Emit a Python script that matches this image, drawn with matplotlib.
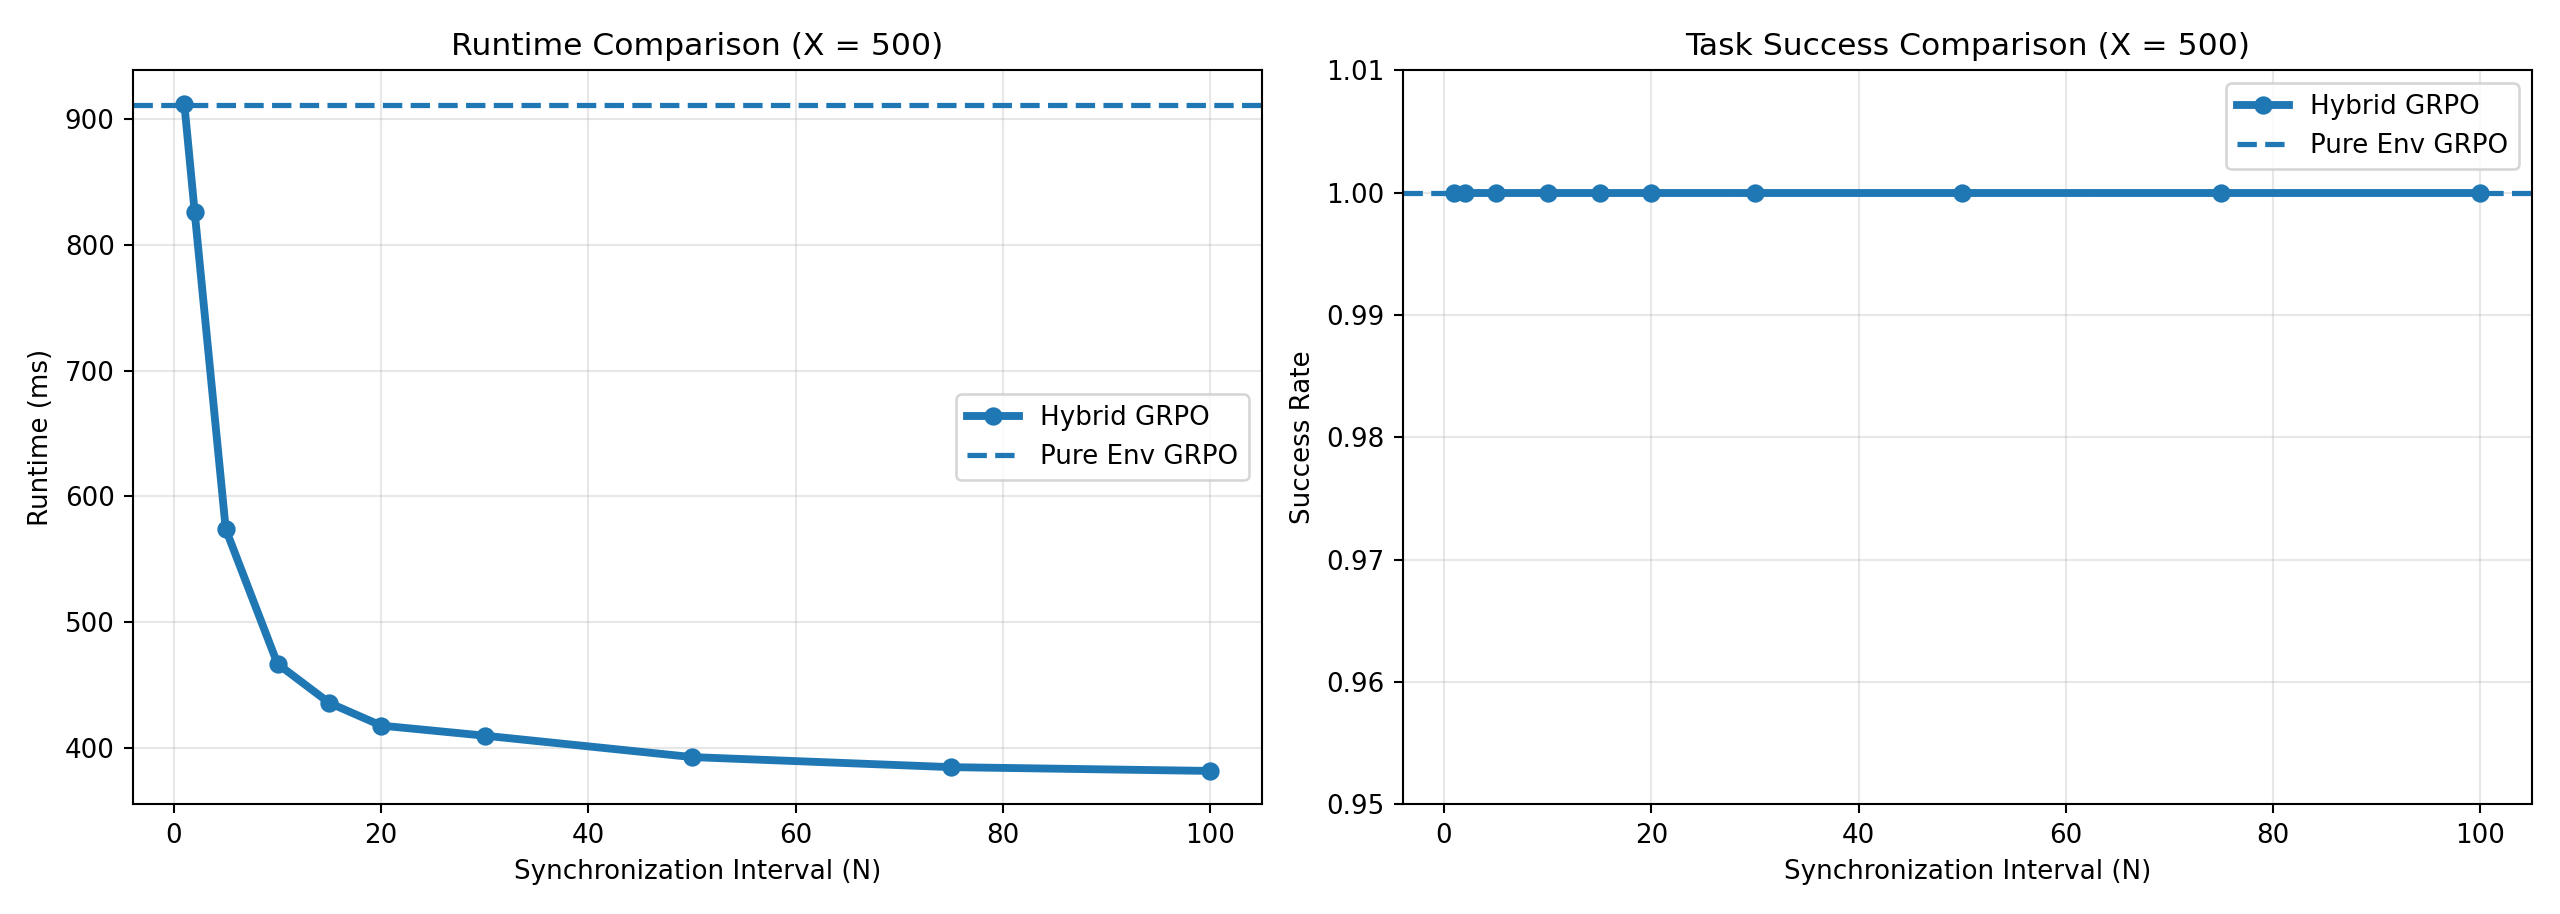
import matplotlib.pyplot as plt

# Sync interval sweep (X = 500)
intervals = [1, 2, 5, 10, 15, 20, 30, 50, 75, 100]
hybrid_runtime = [912, 826, 574, 467, 436, 418, 410, 393, 385, 382]
pure_env_runtime = 911
hybrid_success = [1.0, 1.0, 1.0, 1.0, 1.0, 1.0, 1.0, 1.0, 1.0, 1.0]
pure_env_success = 1.0

DPI = 188.24
fig, axes = plt.subplots(1, 2, figsize=(2560 / DPI, 914 / DPI))

# Runtime
ax1 = axes[0]
ax1.plot(intervals, hybrid_runtime, marker='o', linewidth=3, label='Hybrid GRPO')
ax1.axhline(pure_env_runtime, linestyle='--', linewidth=2, label='Pure Env GRPO')
ax1.set_title("Runtime Comparison (X = 500)")
ax1.set_xlabel("Synchronization Interval (N)")
ax1.set_ylabel("Runtime (ms)")
ax1.grid(True, alpha=0.3)
ax1.legend(loc='center right')

# Success rate
ax2 = axes[1]
ax2.plot(intervals, hybrid_success, marker='o', linewidth=3, label='Hybrid GRPO')
ax2.axhline(pure_env_success, linestyle='--', linewidth=2, label='Pure Env GRPO')
ax2.set_title("Task Success Comparison (X = 500)")
ax2.set_xlabel("Synchronization Interval (N)")
ax2.set_ylabel("Success Rate")
ax2.set_ylim(0.95, 1.01)
ax2.grid(True, alpha=0.3)
ax2.legend(loc='upper right')

plt.tight_layout()
plt.savefig("out.png", dpi=DPI)
plt.close(fig)
